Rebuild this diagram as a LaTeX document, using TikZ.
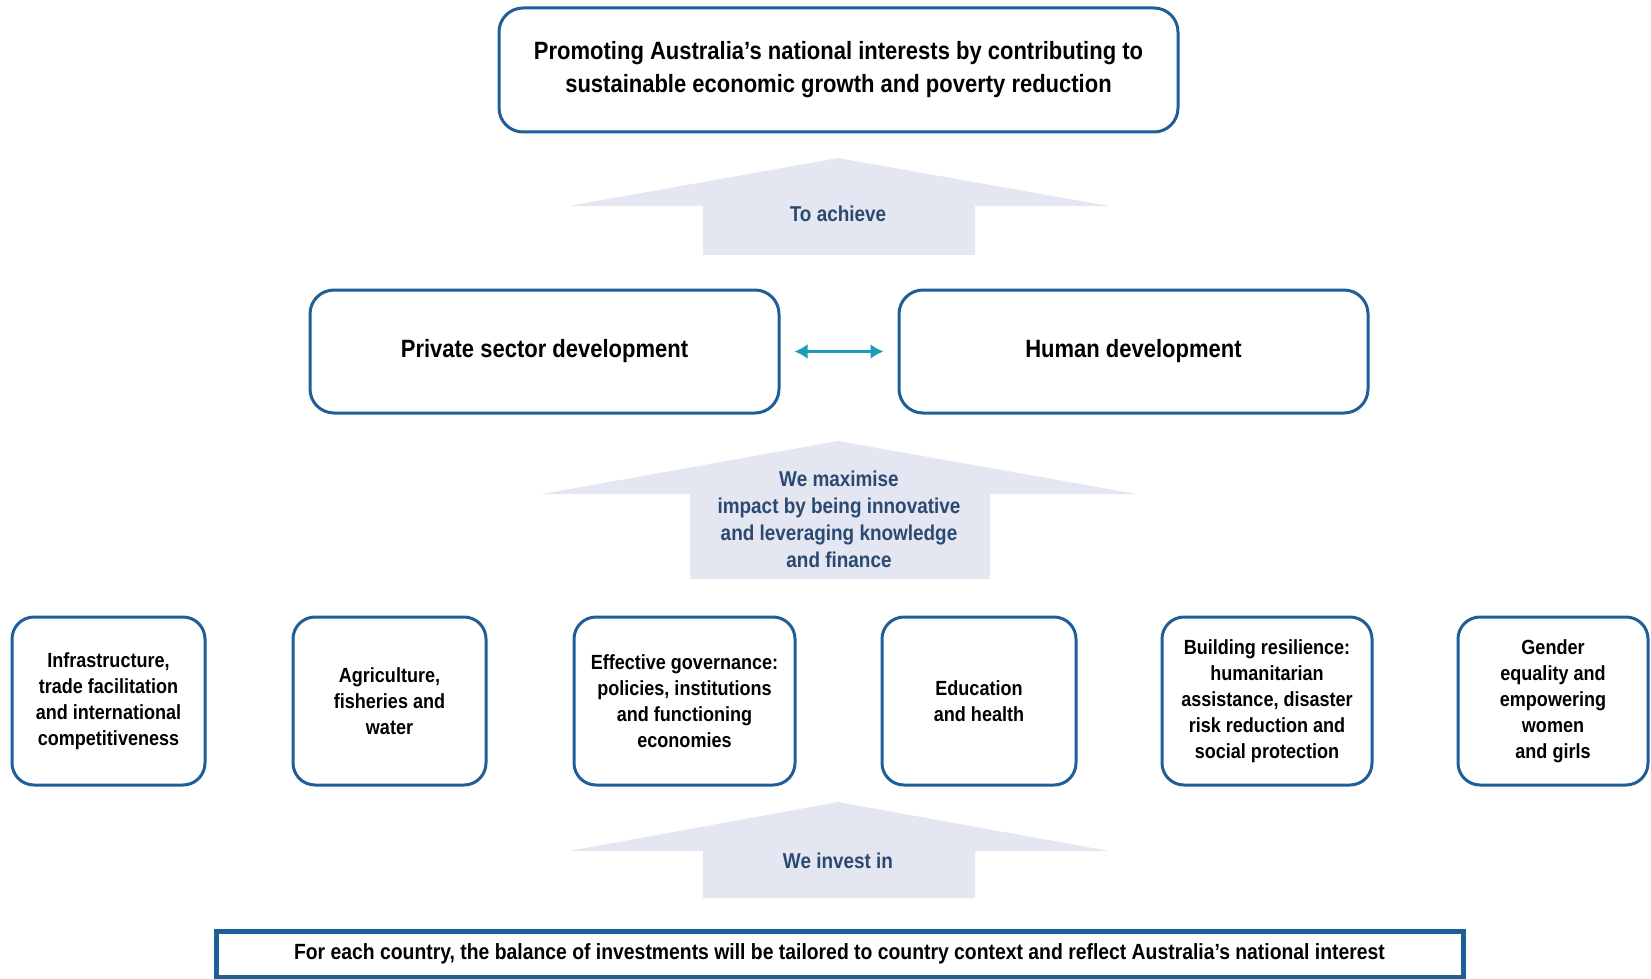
\documentclass[tikz,border=0pt]{standalone}
\usepackage{fontspec}
\setmainfont{Liberation Sans}[FakeStretch=0.88]
\usetikzlibrary{arrows.meta}
\definecolor{boxblue}{HTML}{1F5E98}
\definecolor{arrowfill}{HTML}{E4E6F1}
\definecolor{arrowtext}{HTML}{2B4A72}
\definecolor{teal}{HTML}{1C9CB8}
\tikzset{
  rbox/.style={draw=boxblue, line width=3pt, rounded corners=24pt, fill=white, align=center, inner sep=0pt, text=black},
  bigbox/.style={rbox, font=\fontsize{25}{33}\selectfont\bfseries},
  smallbox/.style={rbox, rounded corners=22pt, font=\fontsize{20.5}{26}\selectfont\bfseries},
  bigarrow/.style={fill=arrowfill, draw=none},
  arrowlabel/.style={text=arrowtext, align=center, font=\fontsize{21.5}{27}\selectfont\bfseries},
  linkarrow/.style={draw=teal, line width=3pt, {Latex[length=13pt,width=15pt]}-{Latex[length=13pt,width=15pt]}}
}
\begin{document}
\begin{tikzpicture}[x=1pt,y=-1pt]
\useasboundingbox (0,0) rectangle (1651,979);
% big arrows
\fill[bigarrow] (838,158) -- (1109,206) -- (975,206) -- (975,255) -- (703,255) -- (703,206) -- (569,206) -- cycle;
\fill[bigarrow] (838,441) -- (1137,494) -- (990,494) -- (990,579) -- (690,579) -- (690,494) -- (542,494) -- cycle;
\fill[bigarrow] (838,802) -- (1109,851) -- (975,851) -- (975,898) -- (703,898) -- (703,851) -- (569,851) -- cycle;
\node[arrowlabel] (achieve) at (838,214) {To achieve};
\node[arrowlabel] (maximise) at (839,519) {We maximise\\impact by being innovative\\and leveraging knowledge\\and finance};
\node[arrowlabel] (invest) at (838,861) {We invest in};
% top box
\node[bigbox, minimum width=679pt, minimum height=124pt] (goal) at (838.5,70) {Promoting Australia’s national interests by contributing to\\sustainable economic growth and poverty reduction};
% middle boxes
\node[bigbox, minimum width=469pt, minimum height=123pt] (psd) at (544.5,351.5) {Private sector development};
\node[bigbox, minimum width=469pt, minimum height=123pt] (hd) at (1133.5,351.5) {Human development};
\draw[linkarrow, shorten <=14pt, shorten >=14pt] (psd.east) -- (hd.west);
% bottom boxes
\node[smallbox, minimum width=193pt, minimum height=168pt] (b1) at (108.5,701) {Infrastructure,\\trade facilitation\\and international\\competitiveness};
\node[smallbox, minimum width=193pt, minimum height=168pt] (b2) at (389.5,701) {Agriculture,\\fisheries and\\water};
\node[smallbox, minimum width=221pt, minimum height=168pt] (b3) at (684.5,701) {Effective governance:\\policies, institutions\\and functioning\\economies};
\node[smallbox, minimum width=194pt, minimum height=168pt] (b4) at (979,701) {Education\\and health};
\node[smallbox, minimum width=210pt, minimum height=168pt] (b5) at (1267,701) {Building resilience:\\humanitarian\\assistance, disaster\\risk reduction and\\social protection};
\node[smallbox, minimum width=190pt, minimum height=168pt] (b6) at (1553,701) {Gender\\equality and\\empowering\\women\\and girls};
% bottom banner
\node[draw=boxblue, line width=5pt, fill=white, minimum width=1247pt, minimum height=46pt, inner sep=0pt, font=\fontsize{22}{26}\selectfont\bfseries] (banner) at (839.5,954) {For each country, the balance of investments will be tailored to country context and reflect Australia’s national interest};
\end{tikzpicture}
\end{document}
